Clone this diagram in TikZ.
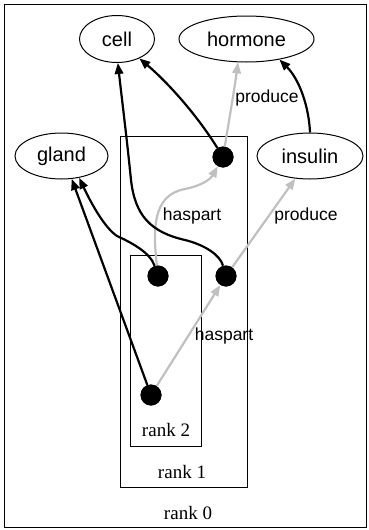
\documentclass[tikz,border=0pt]{standalone}
\usepackage{fontspec}
\setmainfont{Liberation Serif}
\setsansfont{Liberation Sans}
\usetikzlibrary{arrows.meta,shapes.geometric}
\definecolor{edgegray}{HTML}{C0C0C0}
\begin{document}
\begin{tikzpicture}[x=1pt,y=-1pt,
  concept/.style={draw,ellipse,line width=1pt,inner sep=0pt,
    font=\sffamily\fontsize{20}{24}\selectfont},
  part/.style={circle,fill=black,inner sep=0pt,minimum size=21pt},
  cluster/.style={draw,line width=1pt},
  ranklabel/.style={font=\fontsize{19}{22}\selectfont},
  edgelabel/.style={font=\sffamily\fontsize{17.5}{20}\selectfont,inner sep=0pt},
  link/.style={line width=2.2pt,-{Triangle[length=11pt,width=8.5pt]}},
  blacklink/.style={link,black},
  graylink/.style={link,edgegray}]
\useasboundingbox (0,0) rectangle (369,530);

% nested clusters
\draw[cluster] (4,4) rectangle (366,527);
\draw[cluster] (120,136) rectangle (247,487);
\draw[cluster] (130,255) rectangle (201,446);
\node[ranklabel] (r0) at (188,513) {rank 0};
\node[ranklabel] (r1) at (182,472) {rank 1};
\node[ranklabel] (r2) at (166,430) {rank 2};

% concepts
\node[concept,minimum width=75pt,minimum height=47pt] (cell) at (117,39) {cell};
\node[concept,minimum width=135pt,minimum height=46pt] (hormone) at (246.5,39) {hormone};
\node[concept,minimum width=93pt,minimum height=46pt] (gland) at (61.5,156) {gland};
\node[concept,minimum width=106pt,minimum height=46pt] (insulin) at (310,156) {insulin};

% anonymous parts
\node[part] (p1) at (223,157) {};
\node[part] (p2) at (158,276) {};
\node[part] (p3) at (226,276) {};
\node[part] (p4) at (151,395) {};

% gray relations
\draw[graylink] (p1) .. controls (230,115) and (235,85) .. (hormone.-110);
\draw[graylink] (p2) .. controls (153,230) and (152,195) .. (185,189)
  .. controls (200,186) and (210,180) .. (p1);
\draw[graylink] (p3) -- (insulin.-123);
\draw[graylink] (p4) -- (p3);

% black relations
\draw[blacklink] (p1) .. controls (195,112) and (165,80) .. (cell.-41);
\draw[blacklink] (insulin.north) .. controls (309,108) and (300,80) .. (hormone.-32);
\draw[blacklink] (p3) .. controls (220,255) and (205,245) .. (185,240)
  .. controls (150,232) and (135,215) .. (131,180)
  .. controls (127,140) and (122,100) .. (cell.-88);
\draw[blacklink] (p2) .. controls (150,252) and (130,242) .. (117,236)
  .. controls (105,228) and (92,205) .. (gland.-51);
\draw[blacklink] (p4) -- (gland.-66);

% redraw the parts on top of the edge ends
\foreach \p in {p1,p2,p3,p4} \fill (\p) circle (10.5pt);

% relation labels
\node[edgelabel] (l1) at (267,98) {produce};
\node[edgelabel] (l2) at (192,216) {haspart};
\node[edgelabel] (l3) at (306,216) {produce};
\node[edgelabel] (l4) at (224,336) {haspart};
\end{tikzpicture}
\end{document}
